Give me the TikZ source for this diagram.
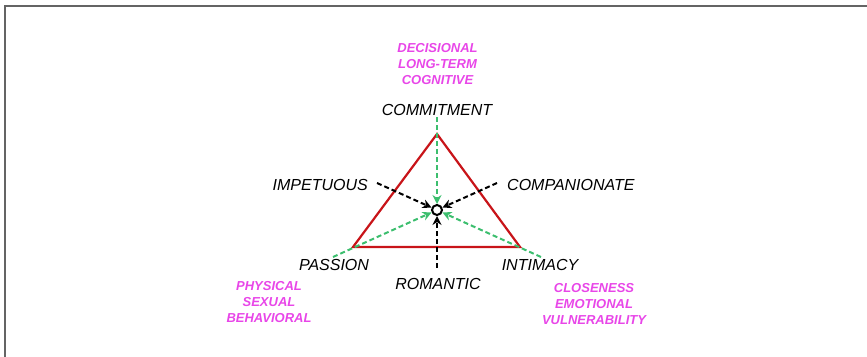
\documentclass[tikz,border=0pt]{standalone}
\usepackage{fontspec}
\setmainfont{Liberation Sans}
\usetikzlibrary{arrows.meta}
\definecolor{tri}{RGB}{200,20,25}
\definecolor{grn}{RGB}{60,190,110}
\definecolor{mag}{RGB}{232,70,232}
\definecolor{frame}{RGB}{100,100,100}
\tikzset{
  lbl/.style={font=\fontsize{16}{18}\selectfont\itshape, text=black, inner sep=0pt},
  mlbl/.style={font=\fontsize{13}{16}\selectfont\bfseries\itshape, text=mag, align=center, inner sep=0pt},
  garrow/.style={draw=grn, line width=2pt, dash pattern=on 5pt off 3pt, -{Stealth[length=9pt,width=9pt]}},
  karrow/.style={draw=black, line width=2pt, dash pattern=on 5pt off 3pt, -{Stealth[length=9pt,width=9pt]}},
}
\begin{document}
\begin{tikzpicture}[x=1pt,y=-1pt]
\useasboundingbox (0,0) rectangle (867,356);
\draw[frame, line width=2pt] (5,357) -- (5,6) -- (868,6);
% triangle vertices
\coordinate (top) at (437,134);
\coordinate (bl) at (353,247);
\coordinate (br) at (520,247);
\draw[tri, line width=2.2pt, line join=miter] (top) -- (bl) -- (br) -- cycle;
% dashed line starts
\coordinate (gtop) at (437,117);
\coordinate (gl) at (333,257);
\coordinate (gr) at (541,257);
\coordinate (kimp) at (377,183);
\coordinate (kcomp) at (497,183);
\coordinate (krom) at (437,268);
\node[circle, draw=black, fill=white, line width=2pt, minimum size=10pt, inner sep=0pt] (c) at (437,210) {};
\draw[garrow] (gtop) -- (c);
\draw[garrow] (gl) -- (c);
\draw[garrow] (gr) -- (c);
\draw[karrow] (kimp) -- (c);
\draw[karrow] (kcomp) -- (c);
\draw[karrow] (krom) -- (c);
% labels
\node[lbl] (commit) at (437,110) {COMMITMENT};
\node[lbl, anchor=east] (imp) at (368,185) {IMPETUOUS};
\node[lbl, anchor=west] (comp) at (507,185) {COMPANIONATE};
\node[lbl] (pass) at (334,265) {PASSION};
\node[lbl] (rom) at (438,284) {ROMANTIC};
\node[lbl] (inti) at (540,265) {INTIMACY};
\node[mlbl] (m1) at (437.5,64) {DECISIONAL\\LONG-TERM\\COGNITIVE};
\node[mlbl] (m2) at (269,302) {PHYSICAL\\SEXUAL\\BEHAVIORAL};
\node[mlbl] (m3) at (594,304) {CLOSENESS\\EMOTIONAL\\VULNERABILITY};
\end{tikzpicture}
\end{document}
